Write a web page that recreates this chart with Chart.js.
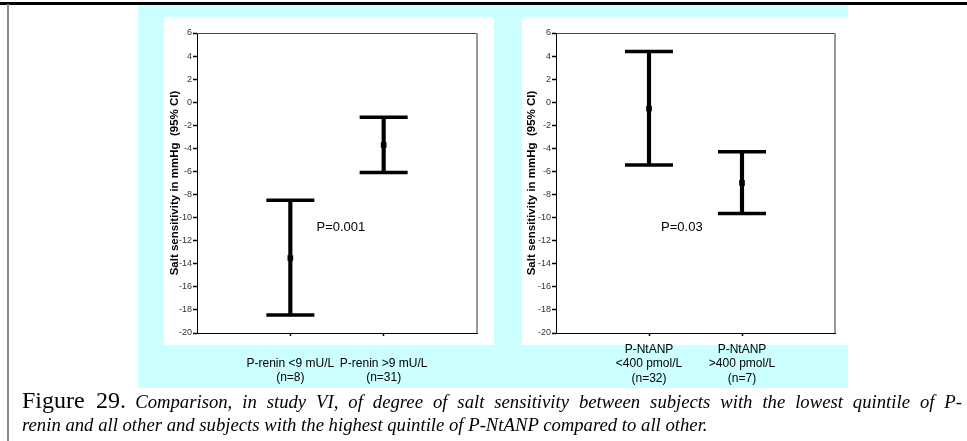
<!DOCTYPE html>
<html>
<head>
<meta charset="utf-8">
<script src="https://cdn.jsdelivr.net/npm/chart.js@4/dist/chart.umd.min.js"></script>
<style>
  body { margin: 0; background: #fff; width: 967px; height: 441px; overflow: hidden; position: relative; }
  .abs { position: absolute; }
  #topline { left: 0; top: 2px; width: 967px; height: 3px; background: #000; }
  #leftline { left: 7px; top: 4px; width: 2px; height: 437px; background: #8a8a8a; }
  #cyan { left: 138px; top: 5px; width: 710px; height: 383px; background: #ccffff; }
  #panel1 { left: 164px; top: 17px; width: 330px; height: 328px; background: #fff; }
  #panel2 { left: 522px; top: 17px; width: 326px; height: 328px; background: #fff; }
  #wrap1 { left: 138px; top: 17px; width: 356px; height: 371px; }
  #wrap2 { left: 494px; top: 17px; width: 354px; height: 371px; }
  #caption { left: 22px; top: 389px; font-family: 'Liberation Serif', 'Times New Roman', serif; line-height: 22px; color: #000; white-space: nowrap; }
  #caption .l1 { width: 940px; text-align: justify; text-align-last: justify; }
  #caption .fig { font-size: 24px; }
  #caption i { font-size: 18.7px; }
</style>
</head>
<body>
<div class="abs" id="topline"></div>
<div class="abs" id="leftline"></div>
<div class="abs" id="cyan"></div>
<div class="abs" id="panel1"></div>
<div class="abs" id="panel2"></div>
<div class="abs" id="wrap1"><canvas id="chart1" width="356" height="371"></canvas></div>
<div class="abs" id="wrap2"><canvas id="chart2" width="354" height="371"></canvas></div>
<div class="abs" id="caption">
  <div class="l1"><span class="fig">Figure 29.</span> <i>Comparison, in study VI, of degree of salt sensitivity between subjects with the lowest quintile of P-</i></div>
  <div><i>renin and all other and subjects with the highest quintile of P-NtANP compared to all other.</i></div>
</div>
<script>
// Left panel: P-renin groups
const reninLabels = [['P-renin <9 mU/L', '(n=8)'], ['P-renin >9 mU/L', '(n=31)']];
const reninMean = [-13.5, -3.7];
const reninLower = [-18.45, -6.1];
const reninUpper = [-8.5, -1.3];

// Right panel: P-NtANP groups
const anpLabels = [['P-NtANP', '<400 pmol/L', '(n=32)'], ['P-NtANP', '>400 pmol/L', '(n=7)']];
const anpMean = [-0.55, -7.0];
const anpLower = [-5.45, -9.65];
const anpUpper = [4.4, -4.3];

// Shared y axis
const yMin = -20;
const yMax = 6;
const yStep = 2;
const yTitle = 'Salt sensitivity in mmHg  (95% CI)';

// P values written in each panel
const pTexts = ['P=0.001', 'P=0.03'];

const font = 'Arial, "Liberation Sans", sans-serif';

// Draws the grey top/right frame and the P value text
const framePlugin = {
    id: 'frame',
    afterDraw(chart, args, opts) {
        const { ctx, chartArea: a, scales } = chart;
        ctx.save();
        ctx.strokeStyle = '#444';
        ctx.lineWidth = 1;
        ctx.beginPath();
        ctx.moveTo(a.left, a.top + 0.5);
        ctx.lineTo(a.right, a.top + 0.5);
        ctx.stroke();
        ctx.strokeStyle = '#999';
        ctx.lineWidth = 2;
        ctx.beginPath();
        ctx.moveTo(a.right, a.top);
        ctx.lineTo(a.right, a.bottom);
        ctx.stroke();
        ctx.fillStyle = '#000';
        ctx.font = '13px ' + font;
        ctx.textBaseline = 'middle';
        ctx.fillText(opts.text, scales.x.getPixelForValue(opts.x), scales.y.getPixelForValue(opts.y));
        ctx.restore();
    }
};

// drop the extra room Chart.js keeps for edge labels
function noPad(s) {
    s.paddingLeft = 0;
    s.paddingRight = 0;
    s.paddingTop = 0;
    s.paddingBottom = 0;
}

function makeChart(id, labels, mean, lower, upper, p, yWidth, padRight, labelPad, titlePad) {
    const pos = labels.map((_, i) => i + 1);
    return new Chart(document.getElementById(id), {
        type: 'scatter',
        data: {
            datasets: [
                {
                    // mean marker
                    data: pos.map((x, i) => ({ x: x, y: mean[i] })),
                    pointStyle: 'rect',
                    pointRadius: 4,
                    backgroundColor: '#000',
                    borderWidth: 0
                },
                {
                    // whisker caps
                    data: pos.map((x, i) => ({ x: x, y: upper[i] })).concat(pos.map((x, i) => ({ x: x, y: lower[i] }))),
                    pointStyle: 'line',
                    pointRadius: 24,
                    borderColor: '#000',
                    borderWidth: 3.5
                },
                {
                    // whisker
                    type: 'bar',
                    data: pos.map((x, i) => ({ x: x, y: [lower[i], upper[i]] })),
                    backgroundColor: '#000',
                    barThickness: 3.5,
                    borderWidth: 0
                }
            ]
        },
        options: {
            responsive: false,
            animation: false,
            layout: { autoPadding: false, padding: { left: 0, right: padRight, top: 16, bottom: 0 } },
            plugins: {
                legend: { display: false },
                tooltip: { enabled: false },
                frame: p
            },
            scales: {
                x: {
                    type: 'linear',
                    min: 0,
                    max: labels.length + 1,
                    offset: false,
                    afterBuildTicks: s => { s.ticks = pos.map(v => ({ value: v })); },
                    afterFit: s => { s.height = 55; noPad(s); },
                    ticks: {
                        callback: (v, i) => labels[i],
                        autoSkip: false,
                        maxRotation: 0,
                        color: '#000',
                        padding: labelPad,
                        font: { family: font, size: 12, lineHeight: 1.2 }
                    },
                    grid: { offset: false, drawOnChartArea: false, tickLength: 3, tickColor: '#000', tickWidth: 1.5 },
                    border: { color: '#000', width: 1 }
                },
                y: {
                    min: yMin,
                    max: yMax,
                    afterFit: s => { s.width = yWidth; noPad(s); },
                    ticks: {
                        stepSize: yStep,
                        color: '#333',
                        padding: 1,
                        font: { family: font, size: 9 }
                    },
                    grid: { drawOnChartArea: false, tickLength: 4, tickColor: '#000', tickWidth: 1.5 },
                    border: { color: '#000', width: 1 },
                    title: {
                        display: true,
                        text: yTitle,
                        color: '#000',
                        font: { family: font, size: 11.5, weight: 'bold', lineHeight: 1.2 },
                        padding: { top: titlePad, bottom: 0 }
                    }
                }
            }
        },
        plugins: [framePlugin]
    });
}

makeChart('chart1', reninLabels, reninMean, reninLower, reninUpper,
    { text: pTexts[0], x: 1.28, y: -10.85 }, 59, 17, 20, 30);
makeChart('chart2', anpLabels, anpMean, anpLower, anpUpper,
    { text: pTexts[1], x: 1.13, y: -10.85 }, 62, 13, 6.5, 31);
</script>
</body>
</html>
